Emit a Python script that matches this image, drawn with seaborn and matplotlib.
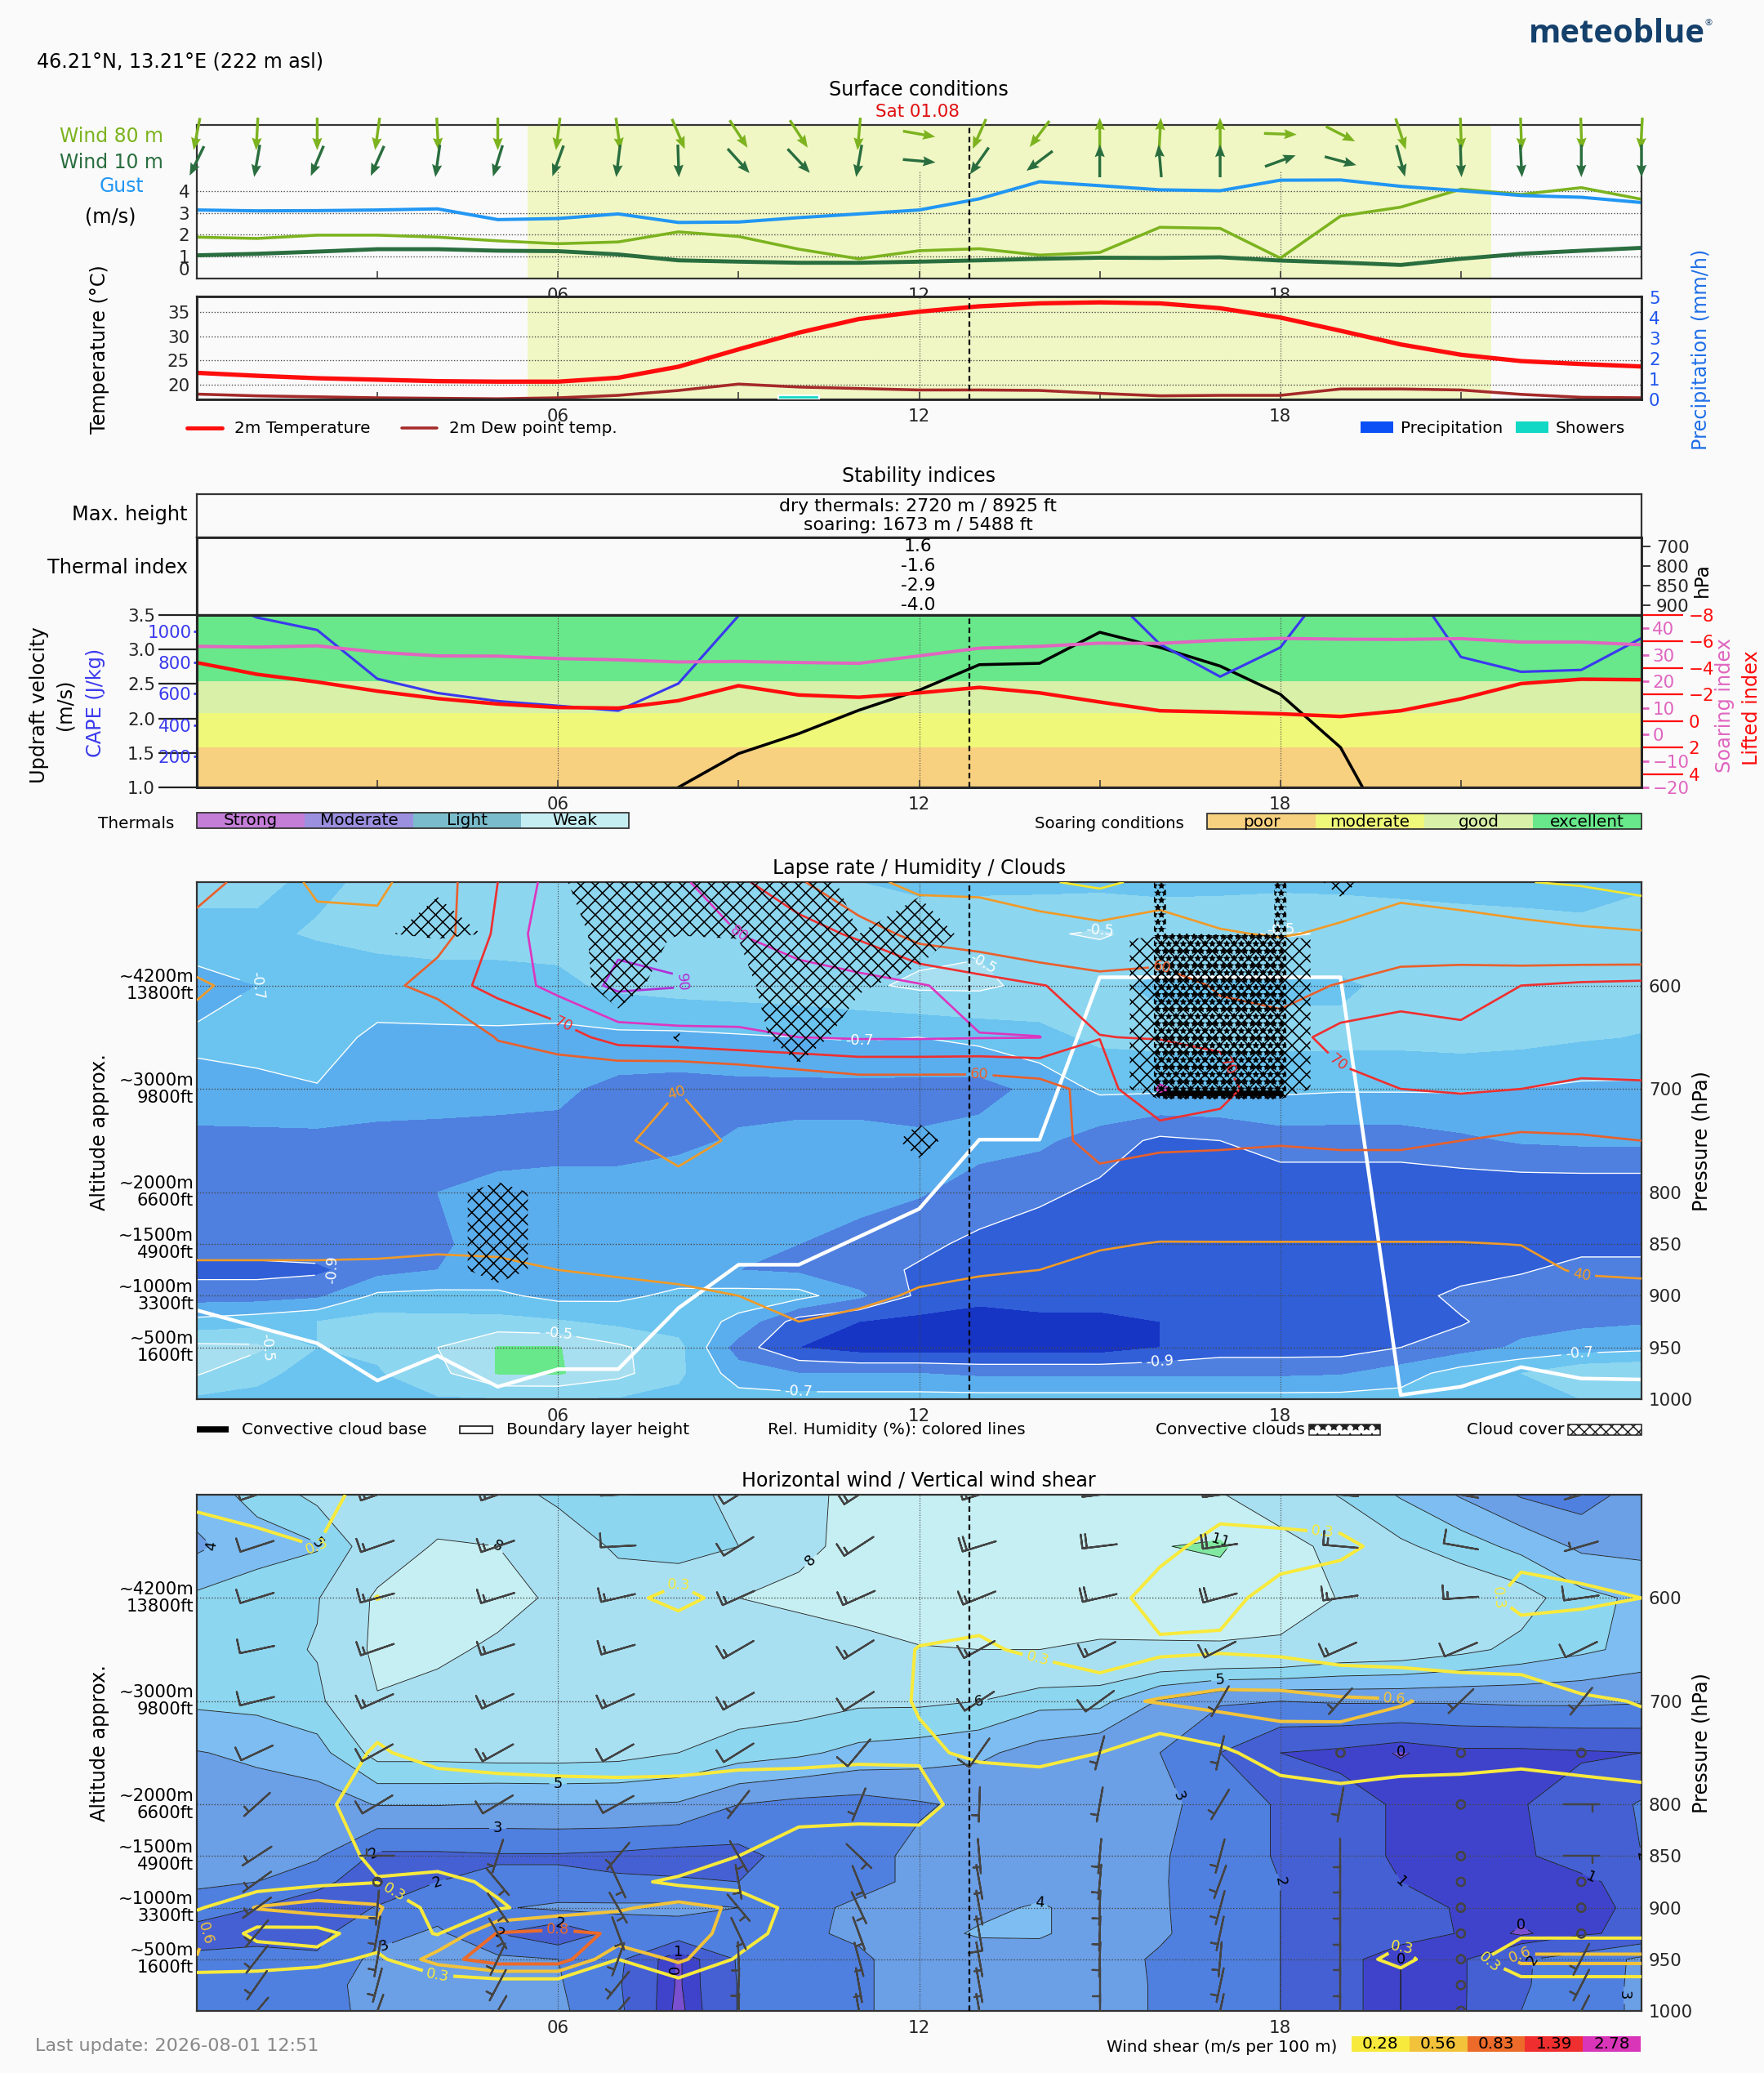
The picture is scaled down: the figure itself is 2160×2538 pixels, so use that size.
import numpy as np
import matplotlib
matplotlib.use("Agg")
import matplotlib.pyplot as plt
from matplotlib.patches import Rectangle
import seaborn as sns

sns.set_theme(style="white", rc={"hatch.linewidth": 0.7, "hatch.color": "black"})
plt.rcParams["font.family"] = ["DejaVu Sans"]

W, H = 2160, 2538
BG = "#fafafa"

hours = list(range(25))
pressure = [1000, 975, 950, 925, 900, 875, 850, 800, 750, 700, 650, 600, 550, 500]
pressure_ticks = [600, 700, 800, 850, 900, 950, 1000]
altitude_ticks = {600: "~4200m\n13800ft", 700: "~3000m\n9800ft", 800: "~2000m\n6600ft",
                  850: "~1500m\n4900ft", 900: "~1000m\n3300ft", 950: "~500m\n1600ft"}

# surface
wind80 = [1.89, 1.83, 1.98, 1.98, 1.89, 1.72, 1.59, 1.67, 2.13, 1.92, 1.34, .9, 1.27, 1.36, 1.07, 1.19, 2.34, 2.29, .93, 2.85, 3.26, 4.08, 3.84, 4.15, 3.62]
wind10 = [1.06, 1.13, 1.23, 1.34, 1.34, 1.27, 1.25, 1.1, .83, .77, .72, .72, .77, .83, .9, .95, .94, .97, .82, .73, .62, .9, 1.13, 1.27, 1.4]
gust = [3.13, 3.09, 3.1, 3.13, 3.18, 2.69, 2.74, 2.95, 2.56, 2.58, 2.78, 2.95, 3.13, 3.64, 4.42, 4.24, 4.05, 4.01, 4.49, 4.5, 4.21, 4.01, 3.79, 3.71, 3.47]
heading80 = [191, 183, 180, 188, 177, 180, 187, 172, 157, 147, 147, 185, 100, 204, 217, 0, 3, 0, 92, 117, 162, 178, 178, 178, 183]
heading10 = [206, 190, 203, 204, 188, 197, 200, 187, 178, 138, 137, 190, 95, 215, 233, 0, 355, 0, 70, 105, 165, 178, 177, 180, 180]
temperature = [22.5, 21.9, 21.4, 21.1, 20.8, 20.7, 20.7, 21.5, 23.75, 27.3, 30.7, 33.5, 35, 36.1, 36.7, 36.9, 36.7, 35.7, 33.8, 31.1, 28.3, 26.2, 24.9, 24.3, 23.8]
dewpoint = [18.15, 17.8, 17.6, 17.4, 17.3, 17.2, 17.4, 17.9, 18.9, 20.2, 19.6, 19.3, 19, 19, 18.9, 18.3, 17.8, 17.9, 17.9, 19.2, 19.2, 19, 18.1, 17.5, 17.4]
shower_hour = [10]
shower_mm = [0.22]

# stability
updraft = [0, 0, 0, 0, 0, 0, 0, .5, 1.0, 1.49, 1.78, 2.12, 2.41, 2.78, 2.8, 3.25, 3.03, 2.76, 2.35, 1.58, 0, 0, 0, 0, 0]
cape = [1250, 1089, 1009, 696, 605, 553, 523, 492, 666, 1101, 2000, 2000, 2000, 2000, 2000, 1300, 918, 710, 897, 1400, 1400, 836, 741, 753, 957]
soaring = [33.2, 32.9, 33.4, 31, 29.6, 29.5, 28.6, 28.1, 27.3, 27.5, 27.1, 26.8, 29.6, 32.5, 33.2, 34.4, 34.3, 35.5, 36.2, 35.9, 35.8, 36.1, 34.8, 34.8, 33.8]
lifted = [-4.41, -3.53, -2.95, -2.26, -1.7, -1.29, -1.03, -.98, -1.54, -2.67, -1.97, -1.8, -2.13, -2.54, -2.13, -1.44, -.78, -.68, -.55, -.35, -.78, -1.68, -2.83, -3.16, -3.12]
thermal_index = ["1.6", "-1.6", "-2.9", "-4.0"]
thermal_hpa = [700, 800, 850, 900]

# lapse rate, rows follow pressure
lapse = [
    [-.62, -.62, -.62, -.62, -.61, -.61, -.61, -.61, -.63, -.66, -.66, -.66, -.66, -.66, -.66, -.66, -.66, -.66, -.66, -.66, -.66, -.66, -.62, -.6, -.6],
    [-.49, -.58, -.63, -.61, -.53, -.395, -.39, -.47, -.58, -.75, -.8, -.8, -.8, -.82, -.82, -.82, -.82, -.82, -.82, -.81, -.75, -.65, -.6, -.52, -.5],
    [-.47, -.48, -.6, -.58, -.5, -.395, -.395, -.48, -.57, -.85, -1.0, -1.05, -1.05, -1.05, -1.05, -1.05, -1.0, -.95, -.95, -.95, -.9, -.85, -.78, -.75, -.73],
    [-.67, -.64, -.6, -.56, -.57, -.57, -.59, -.63, -.65, -.72, -.95, -1.0, -1.03, -1.03, -1.03, -1.03, -1.0, -.95, -.95, -.95, -.95, -.91, -.84, -.82, -.81],
    [-.85, -.85, -.82, -.68, -.67, -.68, -.73, -.72, -.68, -.66, -.66, -.78, -.92, -.98, -.95, -.95, -.95, -.95, -.95, -.95, -.95, -.87, -.85, -.84, -.85],
    [-.93, -.93, -.92, -.84, -.8, -.77, -.76, -.74, -.75, -.8, -.82, -.87, -.91, -.95, -.96, -.96, -.96, -.96, -.96, -.96, -.96, -.95, -.91, -.87, -.88],
    [-.85, -.85, -.84, -.83, -.82, -.75, -.76, -.75, -.75, -.74, -.8, -.85, -.88, -.92, -.95, -.97, -.97, -.97, -.97, -.97, -.97, -.97, -.95, -.93, -.92],
    [-.82, -.82, -.82, -.81, -.8, -.78, -.77, -.76, -.75, -.75, -.75, -.75, -.79, -.85, -.88, -.92, -.95, -.97, -.97, -.97, -.97, -.97, -.97, -.97, -.97],
    [-.83, -.83, -.83, -.83, -.83, -.83, -.83, -.84, -.82, -.79, -.78, -.78, -.79, -.76, -.78, -.85, -.92, -.9, -.85, -.85, -.85, -.82, -.79, -.78, -.78],
    [-.73, -.72, -.705, -.75, -.76, -.77, -.78, -.83, -.84, -.83, -.83, -.83, -.83, -.84, -.77, -.68, -.68, -.68, -.68, -.69, -.69, -.69, -.7, -.72, -.72],
    [-.68, -.67, -.66, -.72, -.72, -.72, -.73, -.72, -.72, -.71, -.7, -.69, -.7, -.67, -.63, -.58, -.57, -.57, -.57, -.57, -.57, -.56, -.57, -.59, -.605],
    [-.75, -.7, -.67, -.65, -.64, -.63, -.62, -.58, -.56, -.55, -.54, -.52, -.48, -.48, -.53, -.58, -.62, -.62, -.62, -.62, -.57, -.55, -.55, -.55, -.55],
    [-.62, -.62, -.59, -.57, -.56, -.57, -.57, -.56, -.55, -.55, -.55, -.55, -.55, -.52, -.51, -.49, -.53, -.52, -.49, -.51, -.54, -.56, -.57, -.58, -.5],
    [-.58, -.58, -.62, -.58, -.58, -.58, -.58, -.58, -.58, -.58, -.58, -.6, -.62, -.63, -.63, -.63, -.63, -.63, -.63, -.63, -.63, -.63, -.63, -.63, -.63],
]
humidity = [
    [33] * 25,
    [33] * 25,
    [33, 33, 33, 33, 33, 33, 33, 33, 33, 34, 36, 34, 33, 33, 33, 33, 33, 33, 33, 33, 33, 33, 33, 33, 33],
    [33, 33, 33, 33, 33, 33, 33, 33, 34, 37, 40, 38, 36, 34, 33, 33, 33, 33, 33, 33, 33, 33, 33, 33, 33],
    [34, 34, 34, 34, 34, 34, 36, 35, 36, 40, 41, 42, 39, 37, 36, 34, 33, 33, 33, 33, 33, 33, 33, 34, 38],
    [37, 37, 37, 37, 37, 37, 40, 42, 45, 44, 42, 43, 42, 41, 40, 37, 35, 35, 35, 35, 35, 35, 36, 41.5, 41],
    [45, 45, 45, 44, 42, 43, 45, 46, 46, 45, 44, 44, 44, 44, 44, 41, 39.5, 39.5, 39.5, 39.5, 39.5, 39.5, 40.2, 43, 45],
    [46, 46, 46, 46, 45, 45, 45, 45, 45, 45, 45, 46, 46, 46, 47, 50, 50, 51, 51, 51, 51, 52, 50, 50, 52],
    [47, 47, 47, 46, 45, 45, 45, 42, 35, 42, 46, 48, 48, 48, 50, 68, 63, 62, 61, 62, 62, 60, 58, 58.8, 60],
    [48, 48, 48, 45, 44, 46, 52, 42, 40.2, 43, 48, 52, 52, 52, 55, 65, 81, 75, 60, 67, 70, 71, 70, 68.7, 69.2],
    [45, 45, 46, 48, 43, 61, 64, 75, 77, 79, 80, 81, 81, 80.5, 80.2, 70.2, 69.5, 68, 66, 73.5, 72, 71, 75, 75, 74],
    [38, 45, 47, 55, 66, 73, 84, 92, 90.5, 84, 85, 84, 81, 75, 70.5, 66, 68, 58, 55, 61, 68, 68, 70, 72, 73],
    [50, 48, 45, 46, 55, 72, 88, 88, 88, 80, 75, 68, 55, 52, 47, 44, 46, 41, 39, 42, 46, 48, 44, 42, 41],
    [70, 50, 37, 35, 55, 70, 85, 88, 82, 72, 62, 45, 35, 35, 31, 28, 33, 31, 33, 33, 36, 30.5, 30.3, 29, 26],
]
cloud_pressure = [1000, 900, 875, 850, 800, 780, 750, 720, 700, 650, 600, 555, 550, 500]
cloud = [
    [0] * 25,
    [0] * 25,
    [0, 0, 0, 0, 0, 1, 0, 0, 0, 0, 0, 0, 0, 0, 0, 0, 0, 0, 0, 0, 0, 0, 0, 0, 0],
    [0, 0, 0, 0, 0, 1, 0, 0, 0, 0, 0, 0, 0, 0, 0, 0, 0, 0, 0, 0, 0, 0, 0, 0, 0],
    [0, 0, 0, 0, 0, 1, 0, 0, 0, 0, 0, 0, 0, 0, 0, 0, 0, 0, 0, 0, 0, 0, 0, 0, 0],
    [0, 0, 0, 0, 0, 0, 0, 0, 0, 0, 0, 0, .3, 0, 0, 0, 0, 0, 0, 0, 0, 0, 0, 0, 0],
    [0, 0, 0, 0, 0, 0, 0, 0, 0, 0, 0, 0, .75, 0, 0, 0, 0, 0, 0, 0, 0, 0, 0, 0, 0],
    [0, 0, 0, 0, 0, 0, 0, 0, 0, 0, 0, 0, .3, 0, 0, 0, 0, 0, 0, 0, 0, 0, 0, 0, 0],
    [0, 0, 0, 0, 0, 0, 0, 0, 0, 0, 0, 0, 0, 0, 0, 0, 1, 1, 1, 0, 0, 0, 0, 0, 0],
    [0, 0, 0, 0, 0, 0, 0, 0, .55, 0, 1, 0, 0, 0, 0, 0, 1, 1, 1, 0, 0, 0, 0, 0, 0],
    [0, 0, 0, 0, 0, 0, 0, .9, 0, .3, 1, .6, .2, 0, 0, 0, 1, 1, 1, 0, 0, 0, 0, 0, 0],
    [0, 0, 0, .1, .5, .1, 0, 1, .4, .5, 1, .5, .9, .1, 0, 0, 1, 1, 1, 0, 0, 0, 0, 0, 0],
    [0, 0, 0, .3, 1, .3, 0, 1, .55, .55, 1, .5, 1, .15, 0, 0, 0, 0, 0, 0, 0, 0, 0, 0, 0],
    [0, 0, 0, 0, .3, 0, .4, 1, 1, 1, 1, .2, .3, 0, 0, 0, 0, 0, 0, .7, 0, 0, 0, 0, 0],
]
convective_pressure = [750, 705, 551, 549, 500]
convective = [
    [0] * 25,
    [0, 0, 0, 0, 0, 0, 0, 0, 0, 0, 0, 0, 0, 0, 0, 0, 1, 1, 1, 0, 0, 0, 0, 0, 0],
    [0, 0, 0, 0, 0, 0, 0, 0, 0, 0, 0, 0, 0, 0, 0, 0, 1, 1, 1, 0, 0, 0, 0, 0, 0],
    [0, 0, 0, 0, 0, 0, 0, 0, 0, 0, 0, 0, 0, 0, 0, 0, 1, 0, 1, 0, 0, 0, 0, 0, 0],
    [0, 0, 0, 0, 0, 0, 0, 0, 0, 0, 0, 0, 0, 0, 0, 0, 1, 0, 1, 0, 0, 0, 0, 0, 0],
]
boundary_layer = [914, 930, 946, 982, 958, 988, 971, 971, 912, 870, 870, 843, 816, 749, 749, 592, 592, 592, 592, 592, 996, 988, 969, 980, 981]
cloud_base_hours = [16, 17, 18]
cloud_base = [704, 704, 704]

# horizontal wind and shear
wind_speed = [
    [2.2, 2.3, 2.5, 3.4, 3.5, 3.5, 3.2, 2.2, .3, 2.05, 2.5, 2.9, 3.3, 3.4, 3.5, 3.4, 2.9, 2.5, 2, 1.3, .5, .9, 2, 2.5, 3.2],
    [2.3, 2.5, 2.7, 3.3, 3.5, 3.4, 3.1, 2.1, .4, 2.05, 2.5, 2.9, 3.3, 3.4, 3.5, 3.4, 2.9, 2.5, 2, 1.3, .5, .9, 1.9, 2.5, 3.2],
    [2.2, 2.2, 2.1, 3.3, 3.4, 3.2, 3, 2.2, .4, 2.1, 2.6, 2.9, 3.3, 3.5, 3.6, 3.3, 2.9, 2.5, 2, 1.3, .5, .9, 1.9, 2.4, 3.2],
    [1.6, 1.8, 1.8, 2.6, 3.2, 2, 1.2, 2.4, 2.6, 2.7, 2.9, 3.1, 3.7, 4.1, 4.1, 3.6, 3.1, 2.6, 2, 1.6, 1.4, .95, .4, .9, 1.2],
    [2.5, 2, 1.0, 2.1, 2.5, 2.9, 3.2, 3.2, 3.2, 3, 2.7, 3.2, 3.5, 3.8, 4.1, 3.6, 3.1, 2.5, 2, 1.6, 1.4, .9, .7, .6, 1.3],
    [3.2, 3, 2.5, .9, 2, 2.2, 2.2, 2.1, 2.1, 2, 2.4, 2.7, 3.2, 3.4, 3.6, 3.4, 3.1, 2.4, 2, 1.4, 1, .7, .85, .85, 1.3],
    [3.4, 3.4, 3.1, 1.8, 1.8, 1.9, 1.9, 1.8, 1.6, 1.7, 2.4, 2.7, 3.2, 3.5, 3.6, 3.5, 3.1, 2.5, 1.9, 1.3, .9, .7, .9, 1.3, 2],
    [3.5, 3.5, 3.5, 4.05, 4.05, 3.95, 4, 4, 3.9, 3, 2.7, 2.6, 2.9, 3.2, 3.4, 3.4, 3.3, 2.5, 1.9, 1.3, .9, .8, .95, 1.4, 2.1],
    [3.95, 4.2, 4.6, 6.4, 6.4, 6.5, 6.5, 6.4, 6, 5.5, 5.2, 4.7, 4.5, 4.2, 3.6, 3.2, 3, 2, 1, .8, .45, .8, .8, .9, 1],
    [5.2, 5.3, 5.7, 7.9, 7, 7, 6.9, 6.9, 6.8, 6.6, 6.5, 6.2, 6.2, 6, 5.3, 5.3, 3.9, 3.1, 3, 3.1, 3.1, 3.1, 3.2, 3.2, 3.1],
    [5.3, 5.5, 6.1, 8.4, 8.6, 7.5, 7, 7, 7, 7, 7, 7.4, 7.9, 8, 8, 7.6, 7.6, 7.7, 7.6, 7, 6.8, 6.3, 5.7, 5.2, 4.7],
    [5.2, 5.5, 5.9, 8.3, 9, 9, 7.5, 7, 7, 8, 8.4, 8.8, 9, 9, 9.3, 9.6, 9.8, 9.5, 9, 7.9, 7.5, 7, 6.5, 5.3, 4.8],
    [3.8, 4.6, 4.9, 6.8, 8.2, 8, 7.2, 5.7, 5.5, 6, 7.6, 8.5, 9, 9.3, 9.5, 10, 10.9, 11.4, 8.6, 7.5, 6.2, 5.5, 4.7, 3.8, 3.7],
    [4.5, 5.3, 6.3, 6.6, 6.8, 6.8, 5.6, 5.5, 5.6, 6.3, 7.5, 8.5, 9, 9, 9, 9, 8.5, 8.1, 7, 5.9, 4.9, 3.9, 2.9, 2.5, 3.5],
]
# staff angle of the barbs at the odd hours, degrees from +x on screen
barb_angle = [
    [50, 70, 60, 50, 88, 100, 100, 90, 78, 90, 0, 63],
    [55, 75, 62, 51, 88, 100, 100, 90, 78, 90, 0, 63],
    [52, 80, 65, 70, 92, 105, 100, 88, 85, 90, 0, 63],
    [50, 80, 120, 110, 115, 110, 100, 88, 78, 90, 0, 0],
    [36, 85, 125, 120, 130, 115, 100, 88, 75, 90, 0, 0],
    [36, 0, 130, 115, 100, 112, 100, 85, 70, 90, 0, 0],
    [33, 0, 72, 50, 120, 136, 95, 85, 75, 90, 0, 180],
    [42, 31, 31, 29, 52, 68, 88, 80, 59, 80, 0, 180],
    [25, 29, 29, 29, 32, 50, 55, 75, 77, 0, 0, 0],
    [14, 24, 25, 24, 29, 32, 33, 36, 60, 48, 44, 51],
    [12, 19, 18, 16, 30, 32, 29, 26, 27, 24, 23, 26],
    [17, 15, 17, 13, 24, 24, 22, 13, 15, 8, 4, 8],
    [18, 19, 19, 3, 32, 33, 17, 7, 8, -5, -10, 16],
    [18, 19, 19, 3, 32, 33, 17, 7, 8, -5, -10, 16],
]
shear = [
    [.05] * 25,
    [.02, .02, 0, .1, .02, .05, .05, .1, .15, .1, .08, .08, .08, .08, .08, .08, .08, .08, .08, .08, .12, .08, .1, .1, .1],
    [.55, .5, .4, .2, .7, 1.0, 1.0, .28, .62, .24, .12, .1, .1, .1, .1, .1, .1, .1, .1, .15, .36, .05, .65, .65, .65],
    [.62, .18, .15, .5, .26, .85, .9, .8, .7, .45, .1, .1, .1, .1, .1, .1, .1, .1, .1, .1, .2, .1, .2, .2, .2],
    [.24, .58, .7, .6, .15, .25, .4, .52, .66, .52, .15, .1, .1, .1, .1, .1, .1, .1, .1, .1, .1, .1, .1, .1, .1],
    [.1, .1, .2, .27, .2, .33, .38, .36, .22, .15, .1, .1, .1, .1, .1, .1, .1, .1, .1, .1, .1, .1, .1, .1, .1],
    [.1, .12, .18, .32, .4, .4, .4, .4, .5, .28, .1, .05, .1, .08, .08, .08, .08, .08, .08, .08, .08, .08, .08, .08, .08],
    [.12, .14, .2, .45, .42, .4, .39, .39, .39, .4, .42, .42, .4, .1, .12, .1, .1, .1, .1, .13, .16, .11, .06, .13, .22],
    [.1, .12, .18, .3, .22, .2, .19, .18, .19, .22, .22, .24, .24, .32, .34, .28, .1, .22, .42, .5, .38, .4, .38, .4, .36],
    [.1, .1, .1, .2, .15, .12, .1, .1, .1, .1, .1, .15, .3, .42, .46, .5, .58, .65, .65, .6, .58, .48, .45, .31, .27],
    [.1, .1, .1, .1, .1, .1, .1, .1, .1, .1, .1, .15, .29, .31, .24, .1, .23, .25, .22, .14, .12, .12, .12, .1, .1],
    [.1, .1, .15, .285, .15, .1, .1, .22, .34, .2, .1, .1, .15, .2, .15, .15, .4, .33, .22, .12, .1, .15, .36, .33, .28],
    [.2, .24, .28, .15, .12, .1, .1, .1, .1, .1, .1, .1, .1, .1, .1, .12, .2, .38, .35, .34, .18, .15, .2, .15, .15],
    [.32, .35, .35, .2, .15, .1, .1, .1, .1, .1, .1, .1, .1, .1, .1, .1, .12, .15, .15, .1, .1, .1, .1, .1, .1],
]

NOW = 12.83
lapse_levels = [-1.3, -1.0, -.9, -.8, -.7, -.6, -.5, -.4, -.3]
lapse_colors = ["#1735c4", "#305fd8", "#4f80df", "#5baeed", "#6bc4ef", "#8dd6f0", "#a8dff0", "#68e88a"]
rh_levels = [30, 40, 60, 70, 80, 90]
rh_colors = ["#f5e72c", "#f09a28", "#e8602c", "#ee3030", "#dc36c0", "#b030d8"]
wind_levels = [0, .5, 1, 2, 3, 4, 5, 6, 8, 11, 15]
wind_colors = ["#7a4fd0", "#3f43cc", "#4560d3", "#4f80e0", "#6b9fe6", "#7dbdf2", "#8dd6f0", "#a8e0f2", "#c5eff3", "#80e8a0"]
shear_levels = [.28, .56, .83, 1.39, 2.78]
shear_colors = ["#f8ea3c", "#f2c33a", "#ec6a2a", "#ef2f2f", "#d835b8"]

GREEN80 = "#7cb31f"
GREEN10 = "#2a6e3f"
BLUE_GUST = "#2196f3"
BLUE_PREC = "#1f55ee"
PINK = "#e066c0"
SOAR = ["#f7d080", "#f0f87a", "#d8f0a8", "#68e88a"]
THERM = ["#c47ed8", "#9b8fe0", "#7bbccc", "#c5eef2"]
FS = 9.6

fig = plt.figure(figsize=(W / 160, H / 160), dpi=160, facecolor=BG)


def add_ax(left, top, right, bottom):
    ax = fig.add_axes([left / W, 1 - bottom / H, (right - left) / W, (bottom - top) / H])
    ax.set_xlim(0, 24)
    ax.set_facecolor(BG)
    for s in ax.spines.values():
        s.set_visible(True)
        s.set_color("#333333")
        s.set_linewidth(1)
    ax.set_xticks([6, 12, 18])
    ax.set_xticklabels(["06", "12", "18"])
    ax.set_xticks([3, 9, 15, 21], minor=True)
    ax.tick_params(axis="x", which="both", direction="in", length=4, width=.7, labelsize=FS, pad=5, bottom=True, color="#333333")
    return ax


def draw(ax, y, color, lw, x=hours):
    sns.lineplot(x=x, y=y, ax=ax, color=color, linewidth=lw, estimator=None, sort=False, legend=False)
    ax.set_xlabel("")
    ax.set_ylabel("")


def hgrid(ax, ticks):
    for t in ticks:
        ax.axhline(t, color="#444444", lw=.6, ls=":", zorder=1.5)


def vgrid(ax, ymax=1.0):
    for t in [6, 12, 18]:
        ax.axvline(t, ymax=ymax, color="#444444", lw=.5, ls=":", zorder=1.5)


def now_line(ax):
    ax.axvline(NOW, color="black", lw=1, ls=(0, (3, 2)), zorder=6)


def hatched(ax, levels_y, field, level, pattern):
    cs = ax.contourf(hours, levels_y, field, levels=[level, 2], colors="none", hatches=[pattern], zorder=4)
    cs.set_edgecolor("black")
    cs.set_linewidth(0)


# surface wind
ax1 = add_ax(241, 152.5, 2010, 341)
ax1.set_ylim(0, 7.03)
ax1.axvspan(5.49, 21.5, color="#f0f7c4", lw=0, zorder=0)
hgrid(ax1, [1, 2, 3, 4])
vgrid(ax1, .7)
now_line(ax1)
draw(ax1, wind80, GREEN80, 1.6)
draw(ax1, wind10, GREEN10, 2.2)
draw(ax1, gust, BLUE_GUST, 1.8)
ax1.set_yticks([0, 1, 2, 3, 4])
ax1.tick_params(axis="y", length=0, labelsize=FS, pad=4)
ax1.get_yticklabels()[0].set_va("bottom")
for head, ypos, col in [(heading80, 6.6, GREEN80), (heading10, 5.37, GREEN10)]:
    rad = np.radians(head)
    ax1.quiver(hours, [ypos] * 25, np.sin(rad), np.cos(rad), color=col, angles="uv", units="dots",
               scale_units="inches", scale=4, width=3.4, headwidth=3.6, headlength=4.5, headaxislength=4,
               pivot="mid", clip_on=False, zorder=5)

# temperature and rain
ax2 = add_ax(241, 363, 2010, 489)
ax2.set_ylim(17.07, 38.1)
ax2.axvspan(5.49, 21.5, color="#f0f7c4", lw=0, zorder=0)
hgrid(ax2, [20, 25, 30, 35])
vgrid(ax2)
now_line(ax2)
draw(ax2, temperature, "#ff0d0d", 2.4)
draw(ax2, dewpoint, "#a52a2a", 1.6)
ax2.set_yticks([20, 25, 30, 35])
ax2.tick_params(axis="y", length=0, labelsize=FS, pad=4)
ax2b = ax2.twinx()
ax2b.set_ylim(0, 5.04)
ax2b.bar(shower_hour, shower_mm, width=.67, color="#10d8c4", zorder=3)
ax2b.set_yticks(range(6))
ax2b.tick_params(axis="y", length=0, labelsize=FS, labelcolor=BLUE_PREC, pad=4)
ax2b.grid(False)

# stability boxes
ax3 = add_ax(241, 605, 2010, 658)
ax3.set_xticks([])
ax3.set_xticks([], minor=True)
ax3.set_yticks([])
ax4 = add_ax(241, 658, 2010, 753)
ax4.set_xticks([])
ax4.set_xticks([], minor=True)
ax4.set_yticks([])
ax4b = ax4.twinx()
ax4b.set_ylim(0, 95)
ax4b.set_yticks([84, 60, 36, 12])
ax4b.set_yticklabels(thermal_hpa)
ax4b.tick_params(axis="y", length=5, width=.8, labelsize=FS, pad=3)
ax4b.grid(False)

# stability chart
ax5 = add_ax(241, 753, 2010, 964)
ax5.set_ylim(1, 3.5)
ax5.axhspan(1, 1.58, color=SOAR[0], lw=0, zorder=0)
ax5.axhspan(1.58, 2.08, color=SOAR[1], lw=0, zorder=0)
ax5.axhspan(2.08, 2.54, color=SOAR[2], lw=0, zorder=0)
ax5.axhspan(2.54, 3.5, color=SOAR[3], lw=0, zorder=0)
vgrid(ax5)
now_line(ax5)
ax5.set_yticks([1, 1.5, 2, 2.5, 3, 3.5])
ax5.set_yticklabels(["1.0", "1.5", "2.0", "2.5", "3.0", "3.5"])
ax5.tick_params(axis="y", direction="out", length=21, width=1, labelsize=FS, pad=2, left=True, color="#222222")
draw(ax5, updraft, "black", 1.6)
ax5.set_zorder(3)
ax_cape = ax5.twinx()
ax_cape.set_ylim(0, 1105)
draw(ax_cape, cape, "#3a3aee", 1.4)
ax_cape.yaxis.tick_left()
ax_cape.set_yticks([200, 400, 600, 800, 1000])
ax_cape.tick_params(axis="y", direction="out", length=2, labelsize=FS, labelcolor="#3a3aee", color="#3a3aee", pad=1)
ax_soar = ax5.twinx()
ax_soar.set_ylim(-20, 45)
draw(ax_soar, soaring, PINK, 1.8)
ax_soar.yaxis.tick_right()
ax_soar.set_yticks([-20, -10, 0, 10, 20, 30, 40])
ax_soar.tick_params(axis="y", direction="out", length=4, labelsize=FS, labelcolor=PINK, color=PINK, pad=2)
ax_li = ax5.twinx()
ax_li.set_ylim(5, -8)
draw(ax_li, lifted, "#ff0d0d", 2)
ax_li.yaxis.tick_right()
ax_li.set_yticks([-8, -6, -4, -2, 0, 2, 4])
ax_li.tick_params(axis="y", direction="out", length=23, width=1, labelsize=FS, labelcolor="#ff0d0d", color="#ff0d0d", pad=3)
for a in [ax_cape, ax_soar, ax_li]:
    a.grid(False)
    a.patch.set_visible(False)

# lapse rate panel
ax6 = add_ax(241, 1080, 2010, 1713)
ax6.set_ylim(1000, 500)
ax6.contourf(hours, pressure, lapse, levels=lapse_levels, colors=lapse_colors, zorder=1)
lines = ax6.contour(hours, pressure, lapse, levels=[-.9, -.7, -.5], colors="white", linewidths=.6, linestyles="solid", zorder=2)
ax6.clabel(lines, fmt="%.1f", fontsize=8, colors="white", inline=True,
           manual=[(1, 600), (11, 650), (10, 992), (1.5, 950), (6, 939), (15, 546), (18, 546), (13, 582), (16, 965), (2.6, 875), (23, 975)])
rh = ax6.contour(hours, pressure, humidity, levels=rh_levels, colors=rh_colors, linewidths=1.2, zorder=3)
ax6.clabel(rh, fmt="%d", fontsize=8, inline=True,
           manual=[(6, 648), (8, 598), (9, 550), (8, 705), (13, 682), (19, 672), (23, 887), (17, 682), (16, 588)])
hatched(ax6, cloud_pressure, cloud, .5, "xxx")
hatched(ax6, convective_pressure, convective, .9, "***")
draw(ax6, boundary_layer, "white", 2)
draw(ax6, cloud_base, "black", 3, x=cloud_base_hours)
hgrid(ax6, pressure_ticks[:-1])
vgrid(ax6)
now_line(ax6)
ax6.yaxis.tick_right()
ax6.set_yticks(pressure_ticks)
ax6.tick_params(axis="y", length=0, labelsize=FS, pad=4)

# wind panel
ax7 = add_ax(241, 1830, 2010, 2462)
ax7.set_ylim(1000, 500)
ax7.contourf(hours, pressure, wind_speed, levels=wind_levels, colors=wind_colors, zorder=1)
wl = ax7.contour(hours, pressure, wind_speed, levels=wind_levels[1:-1], colors="#222222", linewidths=.4, zorder=2)
ax7.clabel(wl, fmt="%.0f", fontsize=8, colors="black", inline=True,
           manual=[(6, 778), (5, 815), (5, 545), (10, 552), (.5, 552), (2, 548), (3, 855), (4, 875), (6, 925), (5, 935),
                   (3, 920), (8, 960), (8, 940), (17, 545), (13, 702), (17, 682), (16, 800), (18, 875), (20, 875),
                   (23, 892), (14, 895), (20, 750), (22, 915), (20, 950), (22, 950), (24, 985), (24, 850)])
sl = ax7.contour(hours, pressure, shear, levels=shear_levels[:3], colors=shear_colors[:3], linewidths=1.8, zorder=3)
ax7.clabel(sl, fmt="%.1f", fontsize=8, inline=True,
           manual=[(2, 552), (3.2, 892), (6, 917), (4, 968), (8, 588), (.3, 925), (18.7, 540), (14, 652), (19.9, 695),
                   (21.6, 600), (20, 940), (21.5, 950), (22, 948)])
bh = hours[1::2]
speed = np.array(wind_speed)[:, 1::2] * 1.94
ang = np.radians(barb_angle)
ax7.barbs(bh, pressure, speed * np.cos(ang), speed * np.sin(ang), length=6.2, linewidth=1.0, color="#444444",
          pivot="middle", zorder=4, sizes={"emptybarb": .12, "width": 0}, clip_on=True)
hgrid(ax7, pressure_ticks[:-1])
vgrid(ax7)
now_line(ax7)
ax7.yaxis.tick_right()
ax7.set_yticks(pressure_ticks)
ax7.tick_params(axis="y", length=0, labelsize=FS, pad=4)

# texts and legends in pixel space
ov = fig.add_axes([0, 0, 1, 1], facecolor="none")
ov.set_xlim(0, W)
ov.set_ylim(H, 0)
ov.axis("off")
ov.set_zorder(20)


def txt(x, y, s, ha="left", va="center", fs=FS, color="black", **kw):
    ov.text(x, y, s, ha=ha, va=va, fontsize=fs, color=color, **kw)


txt(45, 76, "46.21°N, 13.21°E (222 m asl)", fs=10.7)
txt(1980, 42, "meteoblue", ha="center", fs=18, color="#14406b", family="Open Sans", weight="bold")
txt(2086, 28, "®", ha="left", fs=5, color="#14406b")
txt(1125, 110, "Surface conditions", ha="center", fs=10.7)
txt(1124, 137, "Sat 01.08", ha="center", fs=9.6, color="#e01010")
txt(200, 167, "Wind 80 m", ha="right", fs=10.6, color=GREEN80)
txt(200, 199, "Wind 10 m", ha="right", fs=10.6, color=GREEN10)
txt(176, 228, "Gust", ha="right", fs=10.6, color=BLUE_GUST)
txt(135, 266, "(m/s)", ha="center", fs=10.8)
txt(122, 428, "Temperature (°C)", ha="center", rotation=90, fs=10.8)
txt(2083, 428, "Precipitation (mm/h)", ha="center", rotation=90, fs=10.8, color="#1f6fe8")
ov.plot([229, 272], [524, 524], color="#ff0d0d", lw=2.2)
txt(287, 524, "2m Temperature", fs=9)
ov.plot([492, 535], [524, 524], color="#a52a2a", lw=1.6)
txt(550, 524, "2m Dew point temp.", fs=9)
ov.add_patch(Rectangle((1666, 516), 40, 14, color="#0a50f5", lw=0))
txt(1715, 524, "Precipitation", fs=9)
ov.add_patch(Rectangle((1856, 516), 40, 14, color="#10d8c4", lw=0))
txt(1905, 524, "Showers", fs=9)

txt(1125, 583, "Stability indices", ha="center", fs=10.7)
txt(229, 630, "Max. height", ha="right", fs=10.8)
txt(230, 695, "Thermal index", ha="right", fs=10.8)
txt(1124, 620, "dry thermals: 2720 m / 8925 ft", ha="center", fs=9.9)
txt(1124, 643, "soaring: 1673 m / 5488 ft", ha="center", fs=9.9)
for yp, s in zip([669, 693, 717, 741], thermal_index):
    txt(1124, yp, s, ha="center", fs=9.8)
txt(2084, 710, "hPa", ha="center", rotation=90, fs=10.4)
txt(48, 863, "Updraft velocity", ha="center", rotation=90, fs=10.8)
txt(80, 863, "(m/s)", ha="center", rotation=90, fs=10.8)
txt(117, 860, "CAPE (J/kg)", ha="center", rotation=90, fs=10.8, color="#3a3aee")
txt(2112, 863, "Soaring index", ha="center", rotation=90, fs=10.8, color=PINK)
txt(2145, 867, "Lifted index", ha="center", rotation=90, fs=10.8, color="#ff0d0d")

txt(213, 1008, "Thermals", ha="right", fs=9)
for i, (lab, col) in enumerate(zip(["Strong", "Moderate", "Light", "Weak"], THERM)):
    ov.add_patch(Rectangle((241 + i * 132.25, 995), 132.25, 19, facecolor=col, edgecolor="none"))
    txt(241 + (i + .5) * 132.25, 1005, lab, ha="center", fs=9)
ov.add_patch(Rectangle((241, 995), 529, 19, facecolor="none", edgecolor="#333333", lw=.8))
txt(1450, 1008, "Soaring conditions", ha="right", fs=8.9)
for i, (lab, col) in enumerate(zip(["poor", "moderate", "good", "excellent"], SOAR)):
    ov.add_patch(Rectangle((1478 + i * 133, 996), 133, 19, facecolor=col, edgecolor="none"))
    txt(1478 + (i + .5) * 133, 1006, lab, ha="center", fs=9)
ov.add_patch(Rectangle((1478, 996), 532, 19, facecolor="none", edgecolor="#333333", lw=.8))

txt(1125, 1063, "Lapse rate / Humidity / Clouds", ha="center", fs=10.7)
for p, lab in altitude_ticks.items():
    txt(237, 1713 - (1000 - p) * 1.266, lab, ha="right", fs=9.5, linespacing=1.05, multialignment="right")
    txt(237, 2462 - (1000 - p) * 1.264, lab, ha="right", fs=9.5, linespacing=1.05, multialignment="right")
txt(122, 1386, "Altitude approx.", ha="center", rotation=90, fs=10.8)
txt(2083, 1397, "Pressure (hPa)", ha="center", rotation=90, fs=10.8)
ov.plot([241, 280], [1750, 1750], color="black", lw=3.4, solid_capstyle="butt")
txt(296, 1750, "Convective cloud base", fs=9)
ov.add_patch(Rectangle((563, 1746), 40, 9, facecolor="white", edgecolor="#222222", lw=.8))
txt(620, 1750, "Boundary layer height", fs=9)
txt(940, 1750, "Rel. Humidity (%): colored lines", fs=9)
txt(1415, 1751, "Convective clouds", fs=9)
ov.add_patch(Rectangle((1603, 1744), 87, 13, facecolor="white", edgecolor="#222222", lw=.7, hatch="**"))
txt(1796, 1751, "Cloud cover", fs=9)
ov.add_patch(Rectangle((1920, 1744), 90, 13, facecolor="white", edgecolor="#222222", lw=.7, hatch="xxxx"))

txt(1125, 1813, "Horizontal wind / Vertical wind shear", ha="center", fs=10.7)
txt(122, 2134, "Altitude approx.", ha="center", rotation=90, fs=10.8)
txt(2083, 2134, "Pressure (hPa)", ha="center", rotation=90, fs=10.8)
txt(43, 2505, "Last update: 2026-08-01 12:51", fs=10, color="#888888")
txt(1355, 2506, "Wind shear (m/s per 100 m)", fs=9)
for i, (lab, col) in enumerate(zip(["0.28", "0.56", "0.83", "1.39", "2.78"], shear_colors)):
    ov.add_patch(Rectangle((1655 + i * 70.8, 2493), 70.8, 19, facecolor=col, edgecolor="none"))
    txt(1655 + (i + .5) * 70.8, 2503, lab, ha="center", fs=9)

fig.savefig("out.png", dpi=160, facecolor=BG)
